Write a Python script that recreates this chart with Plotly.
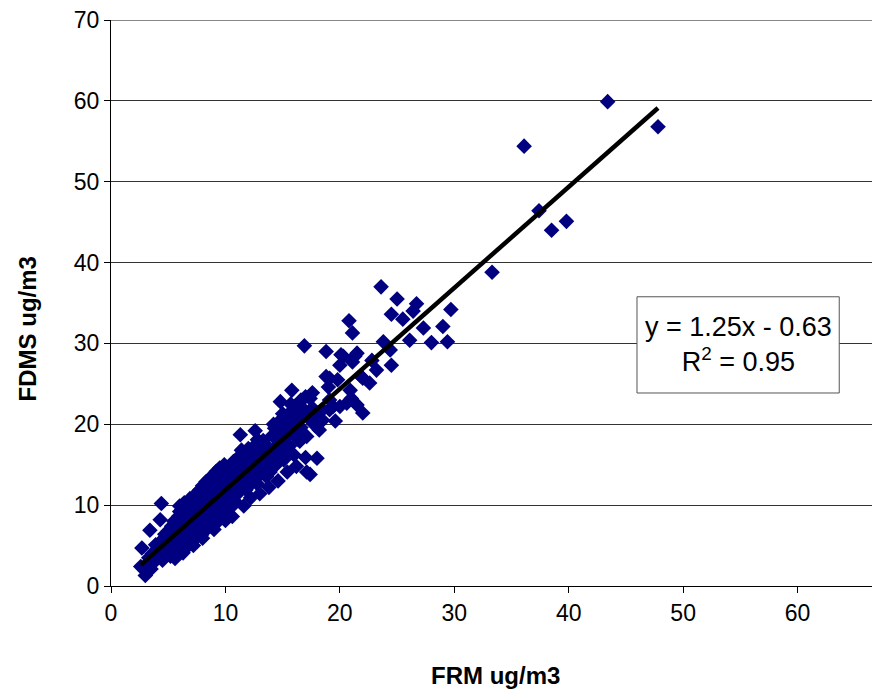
import plotly.graph_objects as go

# FRM vs FDMS daily values (ug/m3)
frm = [
    2.6, 2.7, 3.0, 3.1, 3.3, 3.4, 3.5, 3.6, 3.8, 3.9, 4.0, 4.2, 4.3, 4.4, 4.4, 4.5, 4.6, 4.7, 4.8, 4.9,
    5.0, 5.0, 5.1, 5.2, 5.3, 5.4, 5.5, 5.5, 5.6, 5.7, 5.8, 5.9, 5.9, 6.0, 6.0, 6.1, 6.2, 6.2, 6.3, 6.4,
    6.4, 6.5, 6.5, 6.6, 6.7, 6.7, 6.8, 6.8, 6.9, 6.9,
    7.0, 7.0, 7.1, 7.1, 7.2, 7.3, 7.3, 7.4, 7.4, 7.5, 7.5, 7.6, 7.6, 7.7, 7.7, 7.8, 7.8, 7.9, 7.9, 8.0,
    8.0, 8.1, 8.1, 8.2, 8.2, 8.3, 8.3, 8.4, 8.4, 8.5, 8.5, 8.6, 8.6, 8.7, 8.7, 8.8, 8.8, 8.9, 8.9, 9.0, 9.0,
    9.1, 9.1, 9.2, 9.2, 9.3, 9.3, 9.4, 9.4, 9.5, 9.5, 9.6, 9.6, 9.7, 9.7, 9.8, 9.8, 9.9, 9.9, 10.0, 10.0,
    10.1, 10.1, 10.2, 10.2, 10.3, 10.3, 10.4, 10.5, 10.5, 10.6, 10.7, 10.7, 10.8, 10.9, 10.9, 11.0, 11.0,
    11.1, 11.2, 11.3, 11.3, 11.4, 11.5, 11.6, 11.7, 11.8, 11.9, 12.0, 12.0, 12.1, 12.2, 12.3, 12.4, 12.5,
    12.6, 12.6, 12.7, 12.8, 12.9, 13.0, 13.1, 13.2, 13.3, 13.4, 13.5, 13.6,
    13.7, 13.8, 13.9, 14.0, 14.1, 14.2, 14.3, 14.4, 14.5, 14.6, 14.7, 14.8, 14.8, 14.9, 15.0, 15.1, 15.2,
    15.3, 15.4, 15.5, 15.6, 15.6, 15.7, 15.8, 15.8, 15.9, 16.0, 16.0, 16.2, 16.3,
    16.4, 16.5, 16.6, 16.8, 16.9, 17.0, 17.1, 17.1, 17.2, 17.4, 17.4, 17.6, 17.8, 18.0, 18.0, 18.5, 18.5,
    18.8, 18.8, 19.1, 19.1, 19.1, 19.4, 19.8, 20.0, 20.0, 20.1, 20.3, 20.6, 20.8, 20.9, 21.0, 21.1, 21.1,
    21.3, 21.5, 21.5, 22.0, 22.0, 22.8, 23.2, 23.6, 23.8, 24.4, 24.5, 24.5, 25.0, 25.5, 26.1, 26.4, 26.7,
    27.3, 28.0, 29.0, 29.4, 29.7,
    33.3, 36.1, 37.4, 38.5, 39.8, 43.4, 47.8,
    # extra points filling the outer edges of the dense band
    5.6, 6.3, 7.2, 8.0, 9.0, 10.0, 10.6, 11.6, 12.2, 13.0, 13.8, 14.6, 15.4, 16.2, 17.0,
    6.0, 7.8, 9.8, 11.4, 12.8, 14.2, 15.0, 16.6, 17.6, 18.2, 19.0, 19.6, 21.8, 22.6,
]
fdms = [
    2.4, 4.7, 1.3, 2.6, 3.5, 6.9, 2.1, 4.0, 3.0, 5.1, 3.6, 4.4, 8.2, 10.2, 5.6, 3.2, 4.9, 6.4, 3.9, 5.3,
    4.2, 6.8, 5.5, 3.7, 7.4, 4.8, 6.1, 8.0, 5.2, 4.3, 7.0, 6.2, 8.6, 5.0, 9.2, 7.6, 4.6, 6.7, 8.3, 10.3,
    5.6, 7.2, 9.0, 6.1, 8.0, 4.9, 9.6, 6.9, 7.7, 10.8,
    5.8, 8.6, 7.3, 9.9, 6.4, 8.9, 11.2, 7.6, 5.9, 9.5, 8.2, 6.8, 10.6, 8.8, 11.8, 7.4, 9.8, 6.3, 10.2, 8.5,
    12.4, 9.2, 6.7, 11.0, 7.9, 9.9, 12.9, 8.4, 10.7, 7.2, 11.6, 9.4, 13.3, 8.0, 10.3, 12.2, 9.0, 7.7, 11.1, 10.0, 13.6,
    8.6, 12.0, 9.6, 14.2, 11.3, 7.9, 10.6, 12.8, 9.1, 14.6, 11.8, 8.7, 10.4, 13.4, 12.2, 9.4, 11.0, 15.0, 10.1, 13.0,
    8.8, 12.4, 11.4, 14.3, 9.6, 12.9, 10.9, 13.8, 11.9, 9.9, 12.6, 15.4, 11.2, 13.5, 10.4, 14.4, 12.0,
    15.9, 11.6, 13.2, 18.7, 14.8, 12.4, 16.3, 13.8, 11.9, 15.2, 17.0, 13.1, 14.3, 12.6, 16.1, 14.9, 13.4,
    19.2, 17.4, 15.6, 12.6, 14.6, 16.8, 13.9, 15.3, 18.0, 14.4, 16.4, 13.5,
    17.2, 15.0, 14.1, 16.5, 18.6, 15.6, 19.5, 17.2, 15.1, 18.0, 16.3, 20.5, 22.8, 19.0, 17.5, 15.6, 21.0,
    18.4, 16.6, 19.8, 21.4, 17.3, 22.5, 24.2, 19.2, 20.7, 16.2, 22.2, 20.1, 18.2,
    21.0, 17.9, 19.6, 21.9, 29.7, 23.4, 18.5, 14.1, 20.8, 23.2, 13.8, 22.0, 19.9, 21.4, 15.8, 20.5, 21.8,
    25.9, 29.0, 23.0, 21.8, 25.7, 22.2, 25.5, 27.3, 22.2, 28.6, 28.4, 22.6, 32.8, 24.2, 23.2, 31.3, 27.7,
    28.4, 28.8, 22.4, 25.7, 21.4, 27.9, 26.7, 37.0, 30.2, 29.2, 27.3, 33.6, 35.5, 33.0, 30.4, 34.0, 34.9,
    31.9, 30.1, 32.1, 30.2, 34.2,
    38.8, 54.4, 46.4, 44.0, 45.1, 59.9, 56.8,
    3.4, 4.1, 5.0, 5.9, 7.0, 8.1, 8.6, 9.9, 10.9, 11.4, 12.2, 13.0, 14.1, 14.8, 15.9,
    9.9, 11.9, 14.1, 16.8, 18.1, 20.0, 21.3, 23.0, 23.9, 19.3, 24.6, 20.4, 26.0, 25.1,
]

# linear trendline as printed on the chart
slope = 1.25
intercept = -0.63
fit_x = [min(frm), max(frm)]
fit_y = [slope * v + intercept for v in fit_x]

y_ticks = [0, 10, 20, 30, 40, 50, 60, 70]
x_ticks = [0, 10, 20, 30, 40, 50, 60]

fig = go.Figure()
fig.add_trace(go.Scatter(x=frm, y=fdms, mode="markers",
                         marker=dict(symbol="diamond", size=12, color="#000080", line=dict(width=0)),
                         showlegend=False))
fig.add_trace(go.Scatter(x=fit_x, y=fit_y, mode="lines",
                         line=dict(color="black", width=4.5), showlegend=False))

fig.update_xaxes(range=[0, 67.2], tickvals=x_ticks, showgrid=False, zeroline=False, automargin=False,
                 showline=True, linecolor="black", linewidth=1,
                 ticks="outside", ticklen=6, tickcolor="black", ticklabeloverflow="allow",
                 tickfont=dict(family="Arial", size=23, color="black"))
fig.update_yaxes(range=[0, 70], tickvals=y_ticks, showgrid=True, gridcolor="#333333", gridwidth=1,
                 zeroline=False, showline=True, linecolor="black", linewidth=1, automargin=False,
                 ticks="outside", ticklen=6, tickcolor="black", ticklabeloverflow="allow",
                 tickfont=dict(family="Arial", size=23, color="black"))

# page body adds 8px, so margins are trimmed to land the plot where the original sits
fig.update_layout(
    width=880, height=692,
    margin=dict(l=103, r=8, t=12, b=114),
    plot_bgcolor="white", paper_bgcolor="white",
    font=dict(family="Arial", color="black"),
    shapes=[
        # gray top border at 70
        dict(type="line", xref="paper", yref="y", x0=0, x1=1, y0=70, y1=70,
             line=dict(color="#888888", width=2), layer="above"),
        # equation box
        dict(type="rect", xref="paper", yref="paper", x0=0.684, x1=0.947, y0=0.341, y1=0.511,
             fillcolor="white", line=dict(color="#555555", width=1), layer="above"),
    ],
    annotations=[
        dict(text="<b>FRM ug/m3</b>", x=0.5, y=-0.159, xref="paper", yref="paper",
             showarrow=False, font=dict(family="Arial", size=24), xanchor="center", yanchor="middle"),
        dict(text="<b>FDMS ug/m3</b>", x=-0.108, y=0.455, xref="paper", yref="paper", textangle=-90,
             showarrow=False, font=dict(family="Arial", size=24), xanchor="center", yanchor="middle"),
        dict(text="y = 1.25x - 0.63<br>R<sup>2</sup> = 0.95", x=0.8155, y=0.426, xref="paper", yref="paper",
             showarrow=False, font=dict(family="Arial", size=27), align="center",
             xanchor="center", yanchor="middle"),
    ],
)

fig.write_html("out.html")
